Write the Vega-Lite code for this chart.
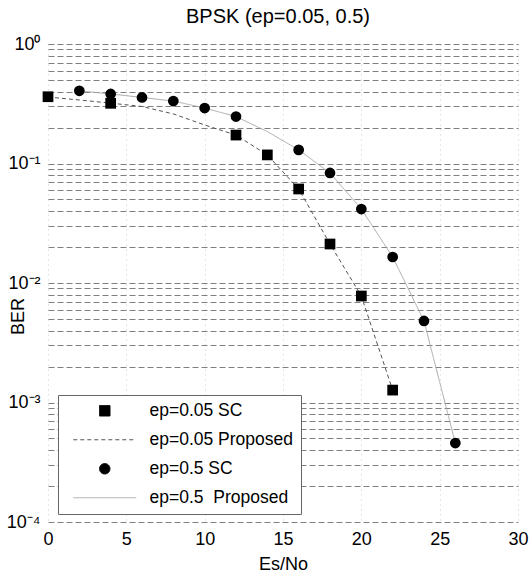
{
  "$schema": "https://vega.github.io/schema/vega-lite/v6.json",
  "width": 470,
  "height": 478,
  "autosize": {"type": "none"},
  "padding": {"left": 48, "top": 44, "right": 11, "bottom": 50},
  "background": "white",
  "title": {"text": "BPSK (ep=0.05, 0.5)", "anchor": "middle", "offset": -8, "baseline": "alphabetic", "fontSize": 20, "fontWeight": "normal", "font": "Liberation Sans", "color": "black", "dx": -5},
  "config": {
    "view": {"stroke": null},
    "font": "Liberation Sans",
    "axis": {"labelColor": "black", "titleColor": "black", "labelFont": "Liberation Sans", "titleFont": "Liberation Sans", "titleFontWeight": "normal", "ticks": false, "domain": false},
    "legend": {"labelFont": "Liberation Sans", "title": null, "orient": "none", "legendX": 10, "legendY": 351, "labelFontSize": 17.5, "labelColor": "black", "padding": 7, "strokeColor": "#666666", "fillColor": "white", "symbolSize": 110, "rowPadding": 10, "symbolOffset": 31, "labelOffset": 36, "symbolStrokeWidth": 1}
  },
  "datasets": {
    "curves": [
      {"snr": 0, "ber": 0.362, "series": "ep=0.05 SC"},
      {"snr": 4, "ber": 0.319, "series": "ep=0.05 SC"},
      {"snr": 12, "ber": 0.173, "series": "ep=0.05 SC"},
      {"snr": 14, "ber": 0.118, "series": "ep=0.05 SC"},
      {"snr": 16, "ber": 0.0612, "series": "ep=0.05 SC"},
      {"snr": 18, "ber": 0.0212, "series": "ep=0.05 SC"},
      {"snr": 20, "ber": 0.00778, "series": "ep=0.05 SC"},
      {"snr": 22, "ber": 0.00127, "series": "ep=0.05 SC"},
      {"snr": 0, "ber": 0.36, "series": "ep=0.05 Proposed"},
      {"snr": 2, "ber": 0.34, "series": "ep=0.05 Proposed"},
      {"snr": 4, "ber": 0.32, "series": "ep=0.05 Proposed"},
      {"snr": 6, "ber": 0.3, "series": "ep=0.05 Proposed"},
      {"snr": 8, "ber": 0.26, "series": "ep=0.05 Proposed"},
      {"snr": 10, "ber": 0.21, "series": "ep=0.05 Proposed"},
      {"snr": 12, "ber": 0.173, "series": "ep=0.05 Proposed"},
      {"snr": 14, "ber": 0.118, "series": "ep=0.05 Proposed"},
      {"snr": 16, "ber": 0.0612, "series": "ep=0.05 Proposed"},
      {"snr": 18, "ber": 0.0212, "series": "ep=0.05 Proposed"},
      {"snr": 20, "ber": 0.00778, "series": "ep=0.05 Proposed"},
      {"snr": 22, "ber": 0.00127, "series": "ep=0.05 Proposed"},
      {"snr": 2, "ber": 0.406, "series": "ep=0.5 SC"},
      {"snr": 4, "ber": 0.382, "series": "ep=0.5 SC"},
      {"snr": 6, "ber": 0.357, "series": "ep=0.5 SC"},
      {"snr": 8, "ber": 0.333, "series": "ep=0.5 SC"},
      {"snr": 10, "ber": 0.291, "series": "ep=0.5 SC"},
      {"snr": 12, "ber": 0.247, "series": "ep=0.5 SC"},
      {"snr": 16, "ber": 0.13, "series": "ep=0.5 SC"},
      {"snr": 18, "ber": 0.0833, "series": "ep=0.5 SC"},
      {"snr": 20, "ber": 0.0416, "series": "ep=0.5 SC"},
      {"snr": 22, "ber": 0.0165, "series": "ep=0.5 SC"},
      {"snr": 24, "ber": 0.00481, "series": "ep=0.5 SC"},
      {"snr": 26, "ber": 0.000458, "series": "ep=0.5 SC"},
      {"snr": 2, "ber": 0.406, "series": "ep=0.5\u00a0 Proposed"},
      {"snr": 4, "ber": 0.382, "series": "ep=0.5\u00a0 Proposed"},
      {"snr": 6, "ber": 0.357, "series": "ep=0.5\u00a0 Proposed"},
      {"snr": 8, "ber": 0.333, "series": "ep=0.5\u00a0 Proposed"},
      {"snr": 10, "ber": 0.291, "series": "ep=0.5\u00a0 Proposed"},
      {"snr": 12, "ber": 0.247, "series": "ep=0.5\u00a0 Proposed"},
      {"snr": 14, "ber": 0.185, "series": "ep=0.5\u00a0 Proposed"},
      {"snr": 16, "ber": 0.13, "series": "ep=0.5\u00a0 Proposed"},
      {"snr": 18, "ber": 0.0833, "series": "ep=0.5\u00a0 Proposed"},
      {"snr": 20, "ber": 0.0416, "series": "ep=0.5\u00a0 Proposed"},
      {"snr": 22, "ber": 0.0165, "series": "ep=0.5\u00a0 Proposed"},
      {"snr": 24, "ber": 0.00481, "series": "ep=0.5\u00a0 Proposed"},
      {"snr": 26, "ber": 0.000458, "series": "ep=0.5\u00a0 Proposed"}
    ]
  },
  "data": {"name": "curves"},
  "encoding": {
    "x": {
      "field": "snr", "type": "quantitative",
      "scale": {"domain": [0, 30], "nice": false},
      "axis": {"values": [0, 5, 10, 15, 20, 25, 30], "title": "Es/No", "labelFontSize": 18, "titleFontSize": 18, "labelPadding": 8, "titlePadding": 7, "grid": true, "gridColor": "#cccccc", "gridDash": [1, 4], "labelFlush": false}
    },
    "y": {
      "field": "ber", "type": "quantitative",
      "scale": {"type": "log", "domain": [0.0001, 1], "nice": false},
      "axis": {
        "values": [0.0001,0.0002,0.0003,0.0004,0.0005,0.0006,0.0007,0.0008,0.0009,0.001,0.002,0.003,0.004,0.005,0.006,0.007,0.008,0.009,0.01,0.02,0.03,0.04,0.05,0.06,0.07,0.08,0.09,0.1,0.2,0.3,0.4,0.5,0.6,0.7,0.8,0.9,1],
        "labelExpr": "datum.value == 1 ? '10⁰' : datum.value == 0.1 ? '10⁻¹' : datum.value == 0.01 ? '10⁻²' : datum.value == 0.001 ? '10⁻³' : datum.value == 0.0001 ? '10⁻⁴' : ''",
        "title": "BER", "labelFontSize": 18, "titleFontSize": 18, "labelPadding": 8,
        "labelOverlap": false, "labelFlush": false, "labelBound": false,
        "grid": true, "gridColor": "#808080", "gridDash": [6, 3],
        "titleAngle": 270, "titleX": -21, "titleY": 272, "titleBaseline": "bottom"
      }
    },
    "color": {"field": "series", "type": "nominal", "scale": {"domain": ["ep=0.05 SC", "ep=0.05 Proposed", "ep=0.5 SC", "ep=0.5\u00a0 Proposed"], "range": ["black", "#555555", "black", "#aaaaaa"]}}
  },
  "layer": [
    {
      "transform": [{"filter": "indexof(datum.series, 'Proposed') >= 0"}],
      "mark": {"type": "line", "strokeWidth": 1},
      "encoding": {
        "strokeDash": {"field": "series", "type": "nominal", "scale": {"domain": ["ep=0.05 SC", "ep=0.05 Proposed", "ep=0.5 SC", "ep=0.5\u00a0 Proposed"], "range": [[1, 0], [4, 3], [1, 0], [1, 0]]}}
      }
    },
    {
      "transform": [{"filter": "indexof(datum.series, 'SC') >= 0"}],
      "mark": {"type": "point", "filled": true, "opacity": 1, "size": 115},
      "encoding": {
        "shape": {"field": "series", "type": "nominal", "scale": {"domain": ["ep=0.05 SC", "ep=0.05 Proposed", "ep=0.5 SC", "ep=0.5\u00a0 Proposed"], "range": ["square", "M-6,0H6", "circle", "M-6,0H6"]}}
      }
    }
  ]
}
